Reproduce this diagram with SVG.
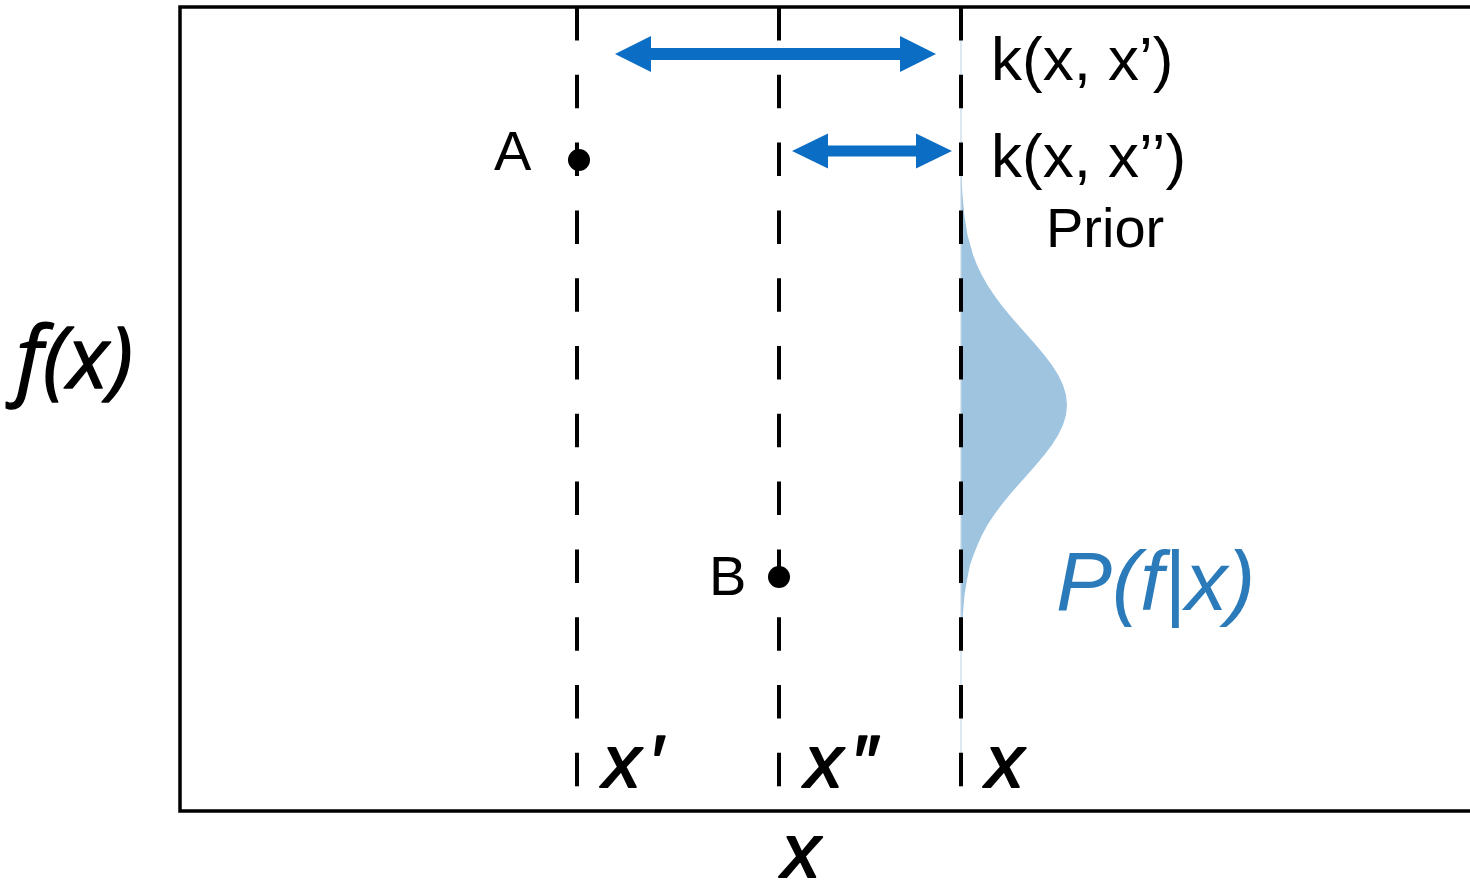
<svg xmlns="http://www.w3.org/2000/svg" width="1470" height="893" viewBox="0 0 1470 893">
<style>
.frame{fill:none;stroke:#000;stroke-width:3.5}
.dash{stroke:#000;stroke-width:4;stroke-dasharray:33.5 34.3;fill:none}
.arrow{fill:#0b6dc3}
.dot{fill:#000}
.t{font-family:"Liberation Sans",Arial,sans-serif;fill:#000}
.it{font-family:"Liberation Sans",Arial,sans-serif;font-style:italic;fill:#000}
.bi{font-family:"Liberation Sans",Arial,sans-serif;font-style:italic;fill:#000;stroke:#000;stroke-width:2;stroke-linejoin:round}
.os{font-family:"Open Sans","Liberation Sans",sans-serif;font-style:italic;fill:#000;stroke:#000;stroke-width:1.4;stroke-linejoin:round}
.blue{fill:#2b7bba}
</style>
<rect width="1470" height="893" fill="#fff"/>
<g id="frame"><rect class="frame" x="180" y="7" width="1300" height="804"/></g>
<g id="prior-dist">
<path d="M961,175 L961.4,175 L962.5,195 L964.3,215 L967.5,235 L973.1,255 L977,265 L981.8,275 L987.4,285 L994,295 L1001.4,305 L1009.5,315 L1018.2,325 L1027.1,335 L1035.9,345 L1044.3,355 L1051.9,365 L1058.2,375 L1063,385 L1066,395 L1067,405 L1066,415 L1063,425 L1058.2,435 L1051.9,445 L1044.3,455 L1035.9,465 L1027.1,475 L1018.2,485 L1009.5,495 L1001.4,505 L994,515 L987.4,525 L982,535 L977.5,545 L973.5,555 L970,565 L967,580 L964.5,595 L962.8,615 L961.5,630 L961,640 Z" fill="#9fc4e0"/>
<line x1="961" y1="40" x2="961" y2="785" stroke="#c4d9ea" stroke-width="1.2"/>
</g>
<g id="guides">
<line class="dash" x1="577" y1="7" x2="577" y2="787"/>
<line class="dash" x1="779" y1="7" x2="779" y2="787"/>
<line class="dash" x1="961" y1="7" x2="961" y2="787"/>
</g>
<g id="connectors">
<polygon class="arrow" points="615,54 651,36 651,48 900,48 900,36 936,54 900,72 900,60 651,60 651,72"/>
<polygon class="arrow" points="792,151 828,133.5 828,145.5 916,145.5 916,133.5 952,151 916,168.5 916,156.5 828,156.5 828,168.5"/>
</g>
<g id="point-A">
<circle class="dot" cx="579" cy="160" r="11"/>
<text class="t" x="494" y="170" font-size="56">A</text>
</g>
<g id="point-B">
<circle class="dot" cx="779" cy="577" r="11"/>
<text class="t" x="709" y="595" font-size="56">B</text>
</g>
<g id="labels">
<text class="t" x="991" y="80" font-size="62">k(x, x’)</text>
<text class="t" x="991" y="177" font-size="62">k(x, x’’)</text>
<text class="t" x="1046" y="247" font-size="56">Prior</text>
<text class="it blue" x="1056" y="610" font-size="84">P(f|x)</text>
<text class="os" x="16" y="388" font-size="86">f(x)</text>
<text class="bi" x="603" y="787" font-size="75">x<tspan dx="8">′</tspan></text>
<text class="bi" x="805" y="787" font-size="75">x<tspan dx="8">″</tspan></text>
<text class="bi" x="986" y="787" font-size="75">x</text>
<text class="bi" x="782" y="877" font-size="76">x</text>
</g>
</svg>
